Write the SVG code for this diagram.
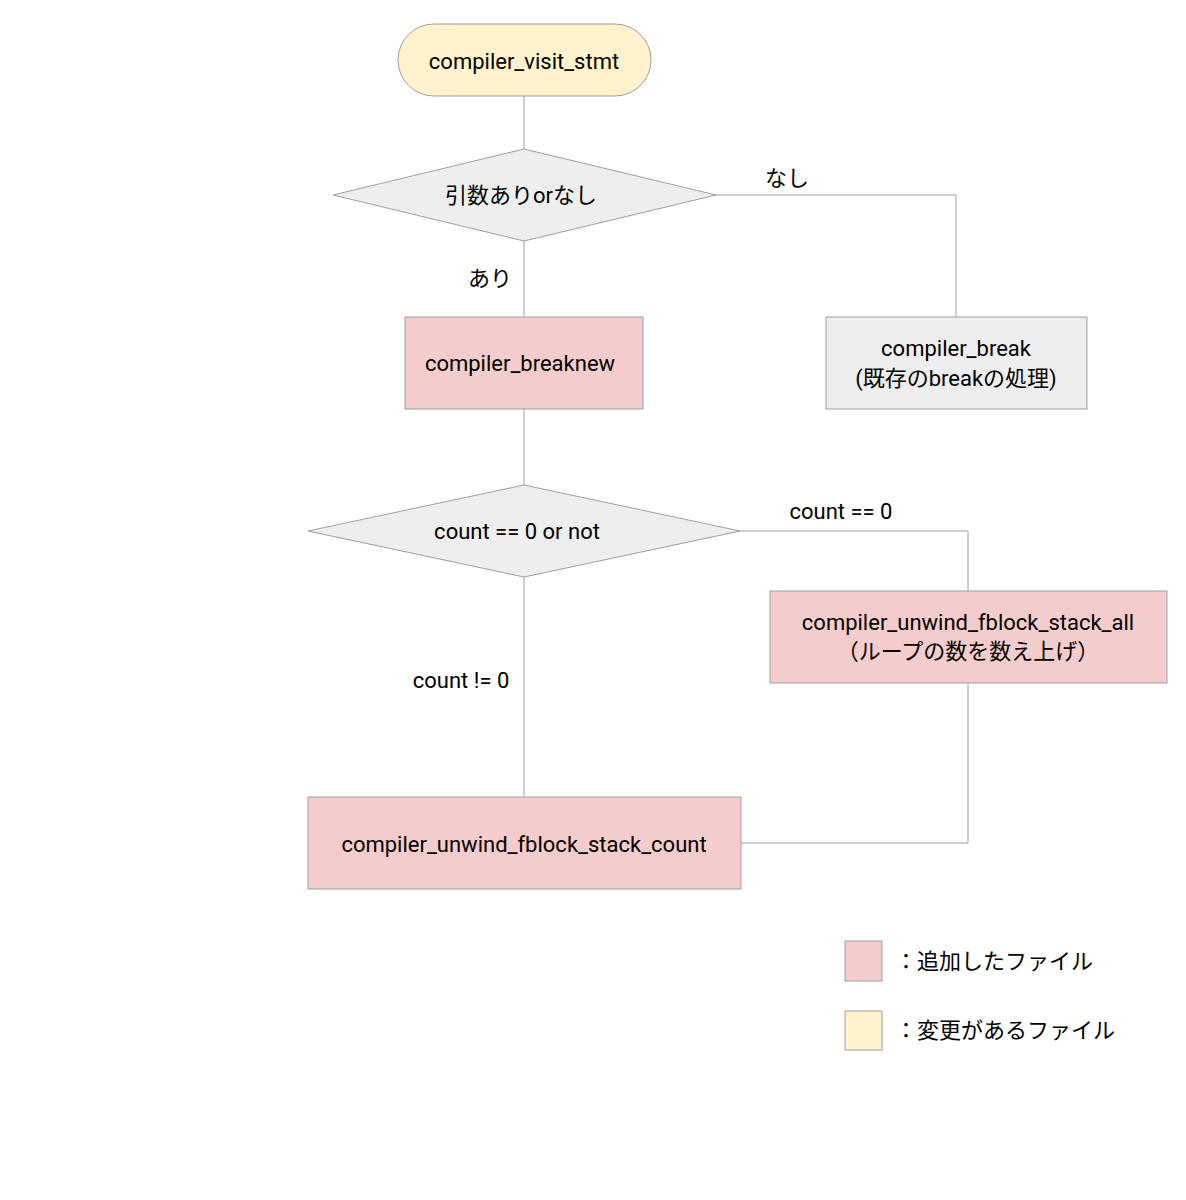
<svg xmlns="http://www.w3.org/2000/svg" width="1186" height="1200" viewBox="0 0 1186 1200">
<style>
text{font-family:"Roboto","Liberation Sans","Noto Sans CJK JP",sans-serif;font-size:22px;fill:#000;text-anchor:middle;dominant-baseline:central}
.n{stroke:#9e9e9e;stroke-width:1}
.pink{fill:#f4cccc}
.gray{fill:#eeeeee}
.yel{fill:#fff2cc}
.c{fill:none;stroke:#9e9e9e;stroke-width:1}
</style>
<rect width="1186" height="1200" fill="#fff"/>
<g id="connectors">
<path class="c" d="M524 96V149"/>
<path class="c" d="M716 195H956V317"/>
<path class="c" d="M524 241V317"/>
<path class="c" d="M524 409V485"/>
<path class="c" d="M740 531H968V591"/>
<path class="c" d="M968 683V843H741"/>
<path class="c" d="M524 577V797"/>
<text x="787" y="178">なし</text>
<text x="490" y="278">あり</text>
<text x="841" y="511">count == 0</text>
<text x="461" y="680">count != 0</text>
</g>
<g id="start"><rect class="n yel" x="398" y="24" width="253" height="72" rx="36"/><text x="524" y="61">compiler_visit_stmt</text></g>
<g id="d1"><polygon class="n gray" points="333,195 524,149 716,195 524,241"/><text x="521" y="195">引数ありorなし</text></g>
<g id="breaknew"><rect class="n pink" x="405" y="317" width="238" height="92"/><text x="520" y="363">compiler_breaknew</text></g>
<g id="break"><rect class="n gray" x="826" y="317" width="261" height="92"/><text x="956" y="348">compiler_break</text><text x="956" y="378">(既存のbreakの処理)</text></g>
<g id="d2"><polygon class="n gray" points="308,531 524,485 740,531 524,577"/><text x="517" y="531">count == 0 or not</text></g>
<g id="all"><rect class="n pink" x="770" y="591" width="397" height="92"/><text x="968" y="622">compiler_unwind_fblock_stack_all</text><text x="968" y="651">（ループの数を数え上げ）</text></g>
<g id="count"><rect class="n pink" x="308" y="797" width="433" height="92"/><text x="524" y="844">compiler_unwind_fblock_stack_count</text></g>
<g id="legend">
<rect class="n pink" x="845" y="941" width="37" height="40"/>
<rect class="n yel" x="845" y="1011" width="37" height="39"/>
<text x="895" y="961" style="text-anchor:start">：追加したファイル</text>
<text x="895" y="1030" style="text-anchor:start">：変更があるファイル</text>
</g>
</svg>
